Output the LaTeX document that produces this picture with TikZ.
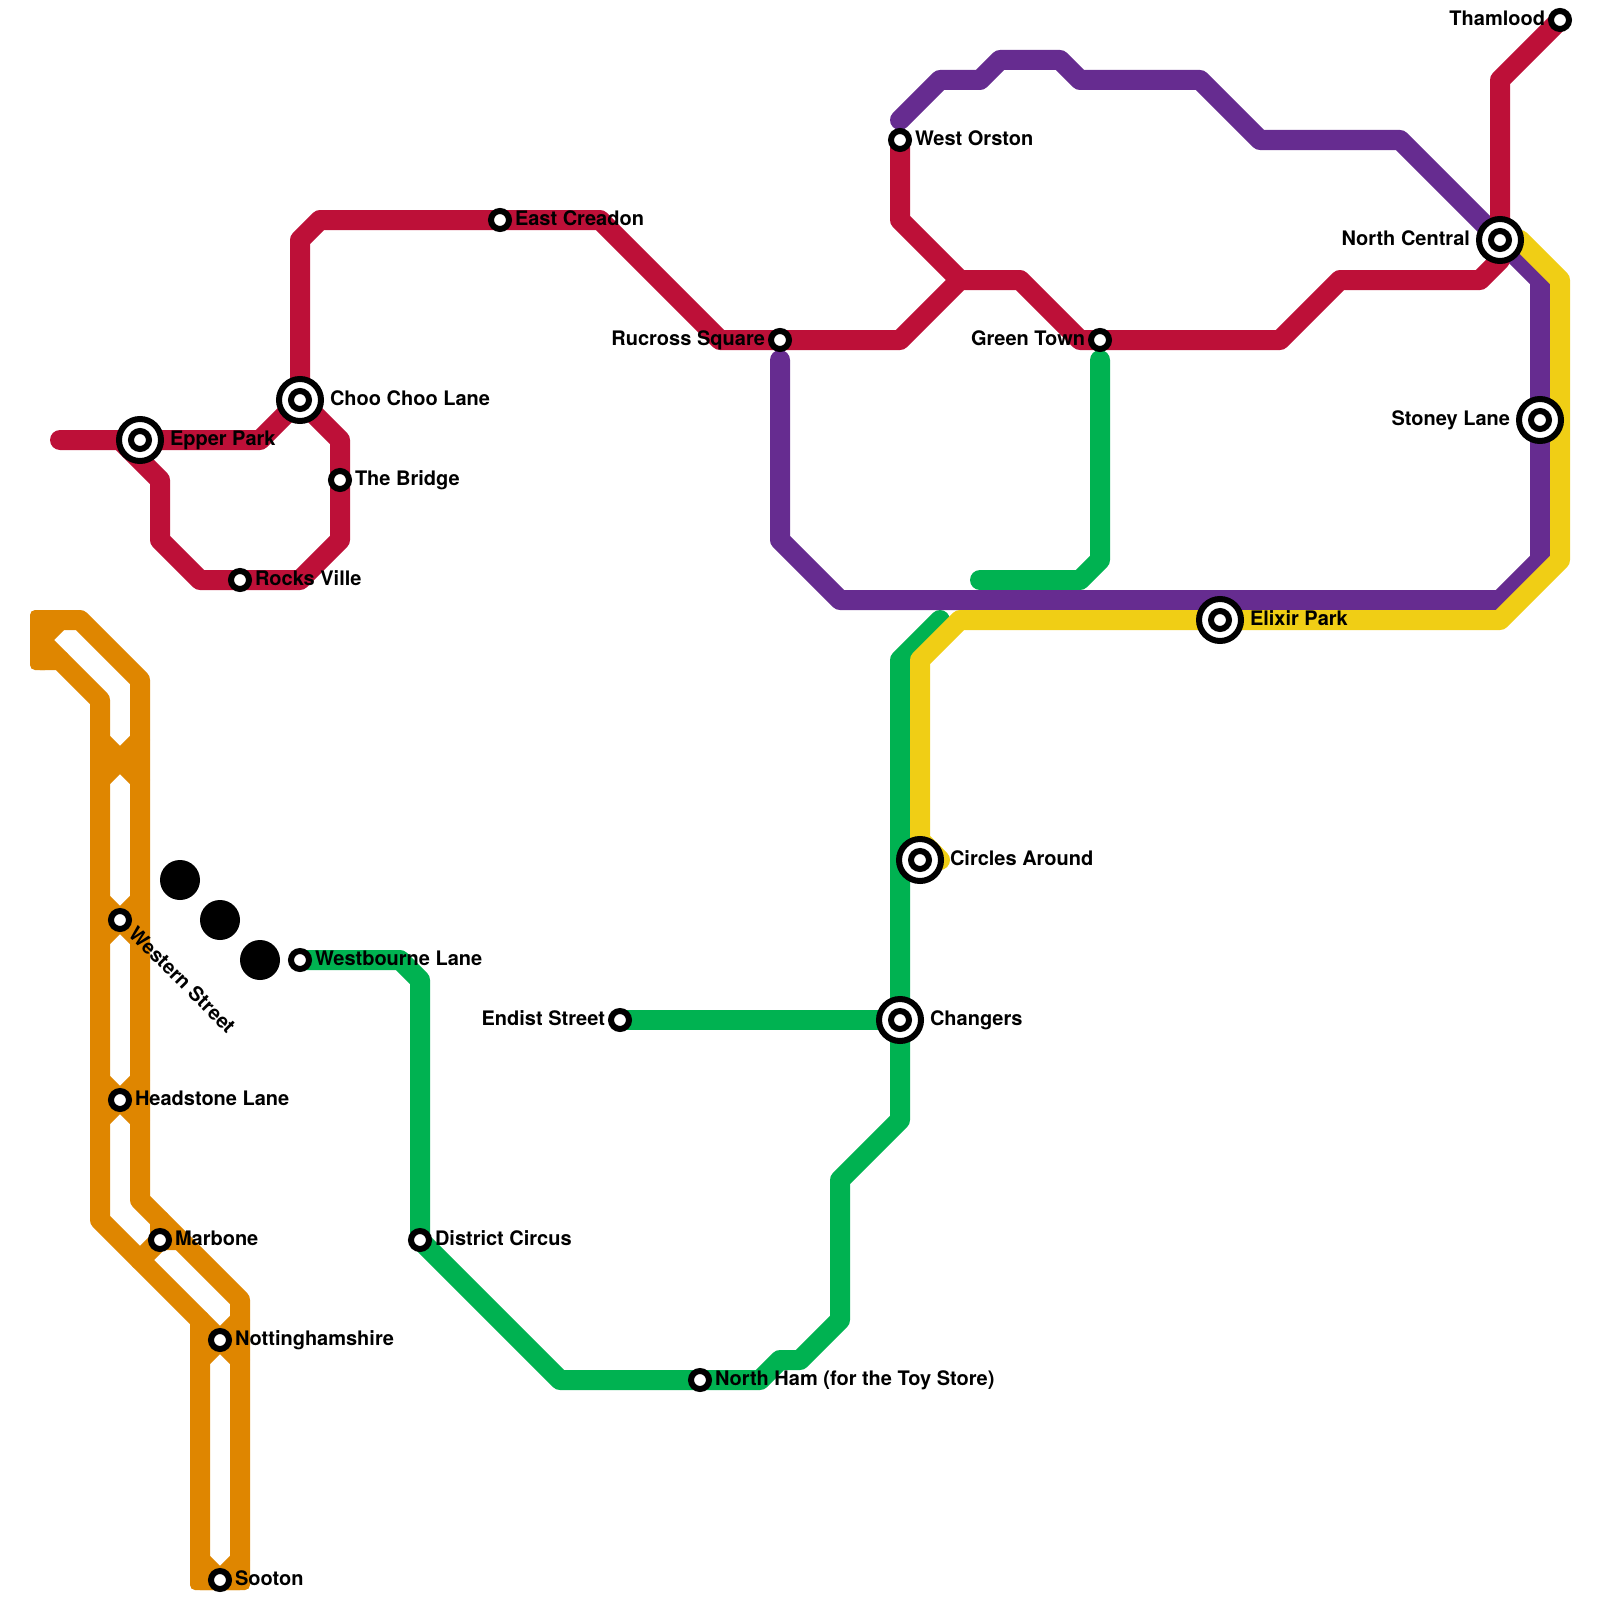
\documentclass[tikz,border=0pt]{standalone}
\usepackage{fontspec}
\setmainfont{TeX Gyre Heros}
\definecolor{mred}{HTML}{BD1038}
\definecolor{mpurple}{HTML}{662C90}
\definecolor{mgreen}{HTML}{00B251}
\definecolor{myellow}{HTML}{F0CE15}
\definecolor{morange}{HTML}{DF8600}
\tikzset{
  metro/.style={line width=10pt,line cap=round,line join=round},
  stn/.style={circle,draw=black,fill=white,line width=3pt,minimum size=9pt,inner sep=0pt,outer sep=0pt},
  hub/.style={circle,draw=black,fill=white,line width=3pt,minimum size=21pt,inner sep=0pt,outer sep=0pt},
  blob/.style={circle,fill=black,minimum size=20pt,inner sep=0pt,outer sep=0pt},
  lbl/.style={font=\bfseries\fontsize{10}{12}\selectfont,inner sep=0pt,outer sep=0pt,text=black},
  lblR/.style={lbl,anchor=base west},
  lblL/.style={lbl,anchor=base east}
}
\begin{document}
\begin{tikzpicture}[x=10pt,y=-10pt]
\useasboundingbox (0,0) rectangle (80,80);
% station positions
\coordinate (pThamlood) at (78,1);
\coordinate (pNorthCentral) at (75,12);
\coordinate (pStoney) at (77,21);
\coordinate (pElixir) at (61,31);
\coordinate (pCircles) at (46,43);
\coordinate (pChangers) at (45,51);
\coordinate (pEndist) at (31,51);
\coordinate (pWestOrston) at (45,7);
\coordinate (pRucross) at (39,17);
\coordinate (pGreenTown) at (55,17);
\coordinate (pEast) at (25,11);
\coordinate (pChoo) at (15,20);
\coordinate (pEpper) at (7,22);
\coordinate (pBridge) at (17,24);
\coordinate (pRocks) at (12,29);
\coordinate (pWestbourne) at (15,48);
\coordinate (pDistrict) at (21,62);
\coordinate (pNorthHam) at (35,69);
\coordinate (pWestern) at (6,46);
\coordinate (pHeadstone) at (6,55);
\coordinate (pMarbone) at (8,62);
\coordinate (pNotts) at (11,67);
\coordinate (pSooton) at (11,79);
% green
\draw[metro,mgreen] (49,29) -- (54,29) -- (55,28) -- (55,18);
\draw[metro,mgreen] (47,31) -- (45,33) -- (pChangers) -- (45,56) -- (42,59) -- (42,66) -- (40,68) -- (39,68) -- (38,69) -- (pNorthHam) -- (28,69) -- (pDistrict) -- (21,49) -- (20,48) -- (pWestbourne);
\draw[metro,mgreen] (pEndist) -- (pChangers);
% purple
\draw[metro,mpurple] (45,6) -- (47,4) -- (49,4) -- (50,3) -- (53,3) -- (54,4) -- (60,4) -- (63,7) -- (70,7) -- (pNorthCentral) -- (77,14) -- (pStoney) -- (77,28) -- (75,30) -- (42,30) -- (39,27) -- (39,18);
% yellow
\draw[metro,myellow] (pNorthCentral) -- (76,12) -- (78,14) -- (78,28) -- (75,31) -- (pElixir) -- (48,31) -- (46,33) -- (46,42) -- (47,43);
% red
\draw[metro,mred] (3,22) -- (pEpper) -- (13,22) -- (pChoo) -- (15,12) -- (16,11) -- (pEast) -- (30,11) -- (36,17) -- (pRucross) -- (45,17) -- (48,14) -- (51,14) -- (54,17) -- (pGreenTown) -- (64,17) -- (67,14) -- (74,14) -- (75,13) -- (pNorthCentral) -- (75,4) -- (pThamlood);
\draw[metro,mred] (pWestOrston) -- (45,11) -- (48,14);
\draw[metro,mred] (6,22) -- (8,24) -- (8,27) -- (10,29) -- (pRocks) -- (15,29) -- (17,27) -- (pBridge) -- (17,22) -- (pChoo);
% orange
\draw[metro,morange] (2,31) -- (4,31) -- (7,34) -- (7,60) -- (12,65) -- (12,79) -- (10,79) -- (10,66) -- (5,61) -- (5,35) -- (3,33) -- (2,33) -- cycle;
\draw[metro,morange] (2,32) -- (3,31);
\draw[metro,morange] (2,32) -- (3,33);
\draw[metro,morange] (5,37) -- (7,39) (7,37) -- (5,39);
\draw[metro,morange] (5,45) -- (7,47) (7,45) -- (5,47);
\draw[metro,morange] (5,54) -- (7,56) (7,54) -- (5,56);
\draw[metro,morange] (7,63) -- (pMarbone) -- (8,61) (pMarbone) -- (9,62);
\draw[metro,morange] (10,66) -- (12,68) (12,66) -- (10,68);
\draw[metro,morange] (10,78) -- (pSooton) -- (12,78);
\fill[morange,rounded corners=2.5pt] (1.5,30.5) rectangle (2.5,33.5);
\fill[morange,rounded corners=2.5pt] (9.5,78.5) rectangle (12.5,79.5);
% black discs
\node[blob] (blobA) at (9,44) {};
\node[blob] (blobB) at (11,46) {};
\node[blob] (blobC) at (13,48) {};
% stations
\node[hub] (hEpper) at (pEpper) {};
\node[hub] (hChoo) at (pChoo) {};
\node[hub] (hNorthCentral) at (pNorthCentral) {};
\node[hub] (hStoney) at (pStoney) {};
\node[hub] (hElixir) at (pElixir) {};
\node[hub] (hCircles) at (pCircles) {};
\node[hub] (hChangers) at (pChangers) {};
\foreach \p/\n in {pThamlood/sThamlood,pNorthCentral/sNorthCentral,pStoney/sStoney,pElixir/sElixir,pCircles/sCircles,pChangers/sChangers,pEndist/sEndist,pWestOrston/sWestOrston,pRucross/sRucross,pGreenTown/sGreenTown,pEast/sEast,pChoo/sChoo,pEpper/sEpper,pBridge/sBridge,pRocks/sRocks,pWestbourne/sWestbourne,pDistrict/sDistrict,pNorthHam/sNorthHam,pWestern/sWestern,pHeadstone/sHeadstone,pMarbone/sMarbone,pNotts/sNotts,pSooton/sSooton}
  \node[stn] (\n) at (\p) {};
% labels
\node[lblL] (tThamlood) at ([shift={(-0.75,0.275)}]pThamlood) {Thamlood};
\node[lblL] (tNorthCentral) at ([shift={(-1.5,0.275)}]pNorthCentral) {North Central};
\node[lblL] (tStoney) at ([shift={(-1.5,0.275)}]pStoney) {Stoney Lane};
\node[lblR] (tElixir) at ([shift={(1.5,0.275)}]pElixir) {Elixir Park};
\node[lblR] (tCircles) at ([shift={(1.5,0.275)}]pCircles) {Circles Around};
\node[lblR] (tChangers) at ([shift={(1.5,0.275)}]pChangers) {Changers};
\node[lblL] (tEndist) at ([shift={(-0.75,0.275)}]pEndist) {Endist Street};
\node[lblR] (tWestOrston) at ([shift={(0.75,0.275)}]pWestOrston) {West Orston};
\node[lblL] (tRucross) at ([shift={(-0.75,0.275)}]pRucross) {Rucross Square};
\node[lblL] (tGreenTown) at ([shift={(-0.75,0.275)}]pGreenTown) {Green Town};
\node[lblR] (tEast) at ([shift={(0.75,0.275)}]pEast) {East Creadon};
\node[lblR] (tChoo) at ([shift={(1.5,0.275)}]pChoo) {Choo Choo Lane};
\node[lblR] (tEpper) at ([shift={(1.5,0.275)}]pEpper) {Epper Park};
\node[lblR] (tBridge) at ([shift={(0.75,0.275)}]pBridge) {The Bridge};
\node[lblR] (tRocks) at ([shift={(0.75,0.275)}]pRocks) {Rocks Ville};
\node[lblR] (tWestbourne) at ([shift={(0.75,0.275)}]pWestbourne) {Westbourne Lane};
\node[lblR] (tDistrict) at ([shift={(0.75,0.275)}]pDistrict) {District Circus};
\node[lblR] (tNorthHam) at ([shift={(0.75,0.275)}]pNorthHam) {North Ham (for the Toy Store)};
\node[lblR,rotate=-45] (tWestern) at ([shift={(0.37,0.76)}]pWestern) {Western Street};
\node[lblR] (tHeadstone) at ([shift={(0.75,0.275)}]pHeadstone) {Headstone Lane};
\node[lblR] (tMarbone) at ([shift={(0.75,0.275)}]pMarbone) {Marbone};
\node[lblR] (tNotts) at ([shift={(0.75,0.275)}]pNotts) {Nottinghamshire};
\node[lblR] (tSooton) at ([shift={(0.75,0.275)}]pSooton) {Sooton};
\end{tikzpicture}
\end{document}
